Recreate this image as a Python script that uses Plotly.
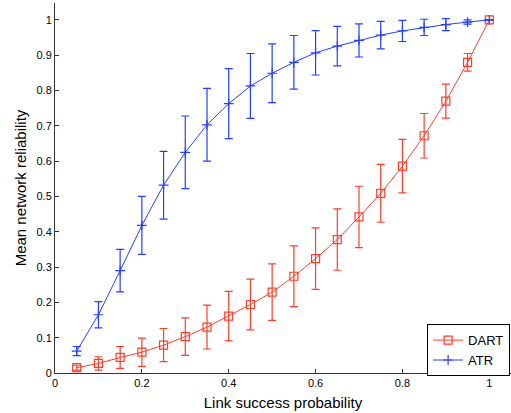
import plotly.graph_objects as go

x_vals = [0.05, 0.10, 0.15, 0.20, 0.25, 0.30, 0.35, 0.40, 0.45, 0.50,
          0.55, 0.60, 0.65, 0.70, 0.75, 0.80, 0.85, 0.90, 0.95, 1.00]

dart_mean = [0.015, 0.027, 0.044, 0.059, 0.079, 0.103, 0.130, 0.161, 0.194, 0.229,
             0.274, 0.324, 0.378, 0.442, 0.509, 0.586, 0.672, 0.770, 0.880, 1.000]
dart_err = [0.007, 0.019, 0.031, 0.040, 0.047, 0.053, 0.062, 0.070, 0.072, 0.080,
            0.086, 0.087, 0.087, 0.087, 0.082, 0.076, 0.063, 0.048, 0.025, 0.0]

atr_mean = [0.062, 0.165, 0.290, 0.418, 0.532, 0.625, 0.703, 0.763, 0.813, 0.849,
            0.880, 0.907, 0.926, 0.942, 0.957, 0.969, 0.979, 0.987, 0.994, 1.000]
atr_err = [0.013, 0.037, 0.060, 0.082, 0.096, 0.103, 0.103, 0.099, 0.092, 0.083,
           0.076, 0.063, 0.056, 0.047, 0.039, 0.030, 0.023, 0.017, 0.006, 0.0]

x_ticks = [0, 0.2, 0.4, 0.6, 0.8, 1]
x_tick_text = ["0", "0.2", "0.4", "0.6", "0.8", "1"]
y_ticks = [0, 0.1, 0.2, 0.3, 0.4, 0.5, 0.6, 0.7, 0.8, 0.9, 1]
y_tick_text = ["0", "0.1", "0.2", "0.3", "0.4", "0.5", "0.6", "0.7", "0.8", "0.9", "1"]

RED = "#f8412c"
BLUE = "#2440ff"

fig = go.Figure()
fig.add_trace(go.Scatter(
    x=x_vals, y=dart_mean, name="DART", mode="lines+markers",
    line=dict(color=RED, width=1),
    marker=dict(symbol="square-open", size=8, color=RED, line=dict(width=1.2, color=RED)),
    error_y=dict(type="data", array=dart_err, visible=True, color=RED, thickness=1.2, width=4),
))
fig.add_trace(go.Scatter(
    x=x_vals, y=atr_mean, name="ATR", mode="lines+markers",
    line=dict(color=BLUE, width=1),
    marker=dict(symbol="cross-thin-open", size=7, color=BLUE, line=dict(width=1.2, color=BLUE)),
    error_y=dict(type="data", array=atr_err, visible=True, color=BLUE, thickness=1.2, width=4),
))

fig.update_layout(
    width=511, height=413,
    margin=dict(l=55, r=0, t=3, b=40, autoexpand=False),
    paper_bgcolor="white", plot_bgcolor="white",
    font=dict(family="Liberation Sans, Arial, sans-serif", color="black", size=11),
    showlegend=True,
    legend=dict(x=0.998, y=0.132, xanchor="right", yanchor="top",
                bgcolor="white", bordercolor="black", borderwidth=1,
                font=dict(size=13), tracegroupgap=0),
)
fig.update_xaxes(
    range=[0, 1.05], tickvals=x_ticks, ticktext=x_tick_text,
    showline=True, linecolor="#333333", linewidth=1, mirror=False,
    ticks="inside", ticklen=4, tickcolor="#333333",
    showgrid=False, zeroline=False, automargin=False,
    title=dict(text="Link success probability", font=dict(size=15), standoff=9),
)
fig.update_yaxes(
    range=[0, 1.048], tickvals=y_ticks, ticktext=y_tick_text,
    showline=True, linecolor="#333333", linewidth=1, mirror=False,
    ticks="inside", ticklen=4, tickcolor="#333333",
    showgrid=False, zeroline=False, automargin=False,
    title=dict(text="Mean network reliability", font=dict(size=15), standoff=6),
)

fig.write_html("out.html", config={"displayModeBar": False},
               post_script="document.body.style.margin='0px';document.body.style.overflow='hidden';")
